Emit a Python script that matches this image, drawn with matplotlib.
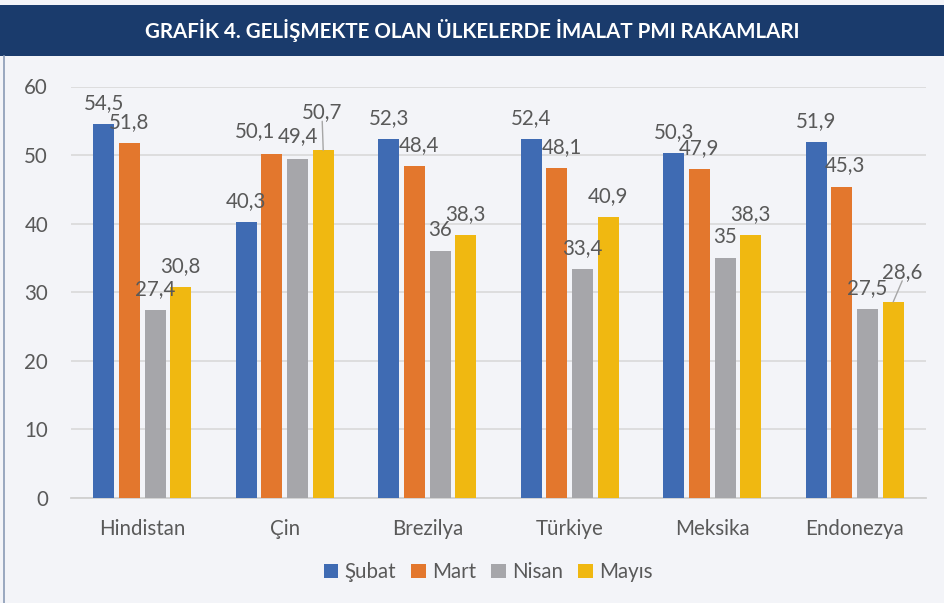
import matplotlib
matplotlib.use("Agg")
import matplotlib.pyplot as plt
from matplotlib.patches import Rectangle
from matplotlib.lines import Line2D
import numpy as np

categories = ["Hindistan", "Çin", "Brezilya", "Türkiye", "Meksika", "Endonezya"]
series_names = ["Şubat", "Mart", "Nisan", "Mayıs"]
subat = [54.5, 40.3, 52.3, 52.4, 50.3, 51.9]
mart = [51.8, 50.1, 48.4, 48.1, 47.9, 45.3]
nisan = [27.4, 49.4, 36.0, 33.4, 35.0, 27.5]
mayis = [30.8, 50.7, 38.3, 40.9, 38.3, 28.6]
label_texts = [
    ["54,5", "40,3", "52,3", "52,4", "50,3", "51,9"],
    ["51,8", "50,1", "48,4", "48,1", "47,9", "45,3"],
    ["27,4", "49,4", "36", "33,4", "35", "27,5"],
    ["30,8", "50,7", "38,3", "40,9", "38,3", "28,6"],
]
title = "GRAFİK 4. GELİŞMEKTE OLAN ÜLKELERDE İMALAT PMI RAKAMLARI"
yticks = [0, 10, 20, 30, 40, 50, 60]

values = [subat, mart, nisan, mayis]
colors = ["#3f6bb3", "#e3772d", "#a6a6aa", "#f0b811"]

# label offsets in pixels (dx, dy to label centre from bar top centre)
default_off = (0, 21)
special_off = {
    (1, 1): (-17, 23),
    (2, 1): (0, 23),
    (3, 1): (-1, 38),
    (1, 2): (5, 21),
    (1, 3): (5.5, 21),
    (1, 5): (3.5, 22),
    (3, 5): (9, 30),
}
leaders = {(3, 1), (3, 5)}

plt.rcParams['font.family'] = ['Lato', 'DejaVu Sans']
txtc = "#595959"
bg = "#f3f4f8"
fs = 14.8

W, H = 944, 603
fig = plt.figure(figsize=(W / 100, H / 100), dpi=100)
fig.patch.set_facecolor(bg)

# title band
fig.patches.append(Rectangle((0, 1 - 56 / H), 1, 51 / H, transform=fig.transFigure,
                             facecolor="#1a3b6c", edgecolor="none", zorder=0))
fig.text(0.5, 1 - 30.5 / H, title, color="white", fontsize=14.8, fontweight="bold",
         ha="center", va="center", family=['Liberation Sans Narrow', 'Lato', 'DejaVu Sans'])
# left border
fig.lines.append(Line2D([3.5 / W, 3.5 / W], [0, 1 - 56 / H], transform=fig.transFigure,
                        color="#8a9bb5", lw=1.2))

ax_l, ax_r = 71, 926
ax_b, ax_t = 498, 86.5
ax = fig.add_axes([ax_l / W, 1 - ax_b / H, (ax_r - ax_l) / W, (ax_b - ax_t) / H])
ax.set_facecolor(bg)

n = len(categories)
x = np.arange(n)
step = 0.18
width = 0.147
for j, (vals, c) in enumerate(zip(values, colors)):
    pos = x + (j - 1.5) * step
    ax.bar(pos, vals, width, color=c, zorder=3, label=series_names[j])
    for i, v in enumerate(vals):
        dx, dy = special_off.get((j, i), default_off)
        ax.annotate(label_texts[j][i], (pos[i], v), xytext=(dx, dy),
                    textcoords="offset pixels", ha="center", va="center",
                    fontsize=fs, color=txtc, zorder=5)
        if (j, i) in leaders:
            ax.annotate("", (pos[i], v), xytext=(dx, dy - 9),
                        textcoords="offset pixels",
                        arrowprops=dict(arrowstyle="-", color="#a6a6a6", lw=1,
                                        shrinkA=0, shrinkB=0), zorder=4)

ax.set_xlim(-0.5, n - 0.5)
ax.set_ylim(0, 60)
ax.set_yticks(yticks)
ax.yaxis.grid(True, color="#d9d9d9", lw=1.2, zorder=0)
ax.set_axisbelow(True)
for s in ["top", "right", "left"]:
    ax.spines[s].set_visible(False)
ax.spines["bottom"].set_color("#d0d0d0")
ax.spines["bottom"].set_linewidth(1.3)
ax.tick_params(axis="both", length=0, labelsize=fs, labelcolor=txtc)
ax.tick_params(axis="y", pad=16.5)
ax.tick_params(axis="x", pad=15)
ax.set_xticks(x)
ax.set_xticklabels(categories)

leg = fig.legend(loc="center", bbox_to_anchor=(488 / W, 1 - 572 / H), ncol=4,
                 frameon=False, fontsize=fs, handlelength=0.7, handleheight=0.7,
                 handletextpad=0.3, columnspacing=0.75, labelcolor=txtc)

fig.savefig("out.png", dpi=100, facecolor=bg)
